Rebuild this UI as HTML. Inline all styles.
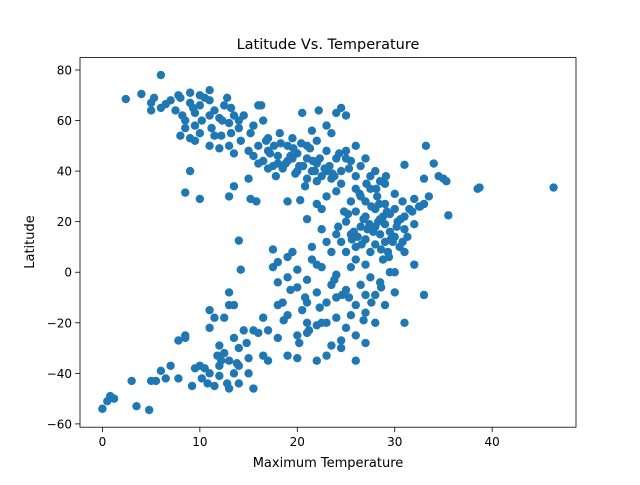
<!DOCTYPE html>
<html><head><meta charset="utf-8"><style>
body{margin:0;background:#fff}
svg text{font-family:"DejaVu Sans","Liberation Sans",sans-serif;fill:#000}
</style></head><body>
<svg id="chart" width="640" height="480" xmlns="http://www.w3.org/2000/svg">
<rect width="640" height="480" fill="#fff"/>
<g id="points"></g>
<rect x="80" y="57.6" width="496" height="369.6" fill="none" stroke="#000" stroke-width="0.8"/>
<g id="xticks"></g>
<g id="yticks"></g>
<text x="328" y="49" text-anchor="middle" font-size="14.5">Latitude Vs. Temperature</text>
<text x="328" y="467" text-anchor="middle" font-size="13">Maximum Temperature</text>
<text x="34" y="242" text-anchor="middle" font-size="13" transform="rotate(-90 34 242)">Latitude</text>
</svg>
<script>
const temps = [2.4,4,5,5,5.3,6,6,6.5,7,7.5,8,8.2,8.5,9,9,9.3,9.5,10,10,10.2,10.5,11,11,11.2,11.5,12,12.2,12.5,12.8,13,13.2,13.5,14,14,14.2,14.5,15,15.2,15.5,16,16.3,16.5,8,8.5,9,9.5,10,10,8.5,9,11,12,13,13.5,13,13.5,15,15.2,15.8,11.5,12.3,13.2,7.8,11,9.5,
15.5,16,16.5,17,17,17.5,17.8,18,18.2,18.5,19,19,19.5,19.8,20,20.2,20.5,20.8,21,21,21.5,21.5,22,22,22.2,22.5,23,23,23.3,23.5,24,24,24.5,24.5,25,25,25.5,26,26,26.5,27,19,20.3,21,22,22.5,23,23.5,24,24.5,16,17,18,19.5,20,21,22,23,25,
25,25.5,26,26,26.5,27,27,27,27.5,27.5,28,28,28,28.2,28.5,28.5,28.8,29,29,29,29,29.3,29.5,29.5,30,30,30,30.3,30.5,30.8,31,31,31,31.5,32,32,32.5,33,33,33.2,33.5,34,34.5,35,35.3,35.5,38.5,38.7,46.3,33,31,31,30,32,26.5,27.5,28,28.5,27,26,25,24.5,24,23.5,23,22.5,22,21.5,26,25.5,
17.5,17.5,18,18,18.5,19,19,19.5,20,20,20.5,21,21,21.5,22,22,22.5,23,23,23.5,24,24,24.5,25,25,25.5,26,26,26.5,27,27,27.5,28,28,28.5,29,29.5,30,26,24.5,23,23.5,22,21,20,19,18,17,16.5,17,18,19,20,21,22.5,24,25.5,27,
0,0.5,0.8,1.2,3,3.5,4.8,5,5.5,6,7,7.8,7.8,8.5,8.5,10,10.5,10.8,11,11,11,11.5,12,12,12.5,12.5,13,13,13,13,13.5,13.5,14,14,14,14.2,14.5,15,15,15.5,15.5,16,16.5,14,12,11.5,9.5,13.5,
26.2,27.2,28.3,29.2,30.2,31.3,27.8,28.8,29.8,26.8,27.6,28.6,29.6,30.6,25.8,26.6,27.4,28.4,29.4,24.8,25.6,30.8,31.8,32.6,26.4,28.1,29.1,27.1,24.2,25.2,
17.2,18.3,19.3,20.6,21.3,22.3,23.6,24.3,16.8,18.8,20.4,22.8,17.6,19.6,21.6,23.8,25.3,21.8,
19.3,20.8,22.3,23.8,25.3,26.8,21.2,24.6,18.6,27.6,28.6,20.2,
10.2,12.2,14.8,12.8,9.2,6.5,13.8,11.8];
const lats = [68.5,70.5,67,64,69,78,65,66.5,68,64,69,62,60,67,71,65,63,70,66,60,69,68,62,57,64,61,54,66,69,59,55,62,57,60,52,62,48,55,58,66,66,60,54,57,53,52,55,29,31.5,40,50,49,50,47,30,34,37,29,28,54,60,65,70,72,58,
46,50,44,48,53,42,38,46,55,41,50,44,53,39,47,42,63,34,50,45,40,56,52,43,64,38,48,58,42,55,45,63,40,65,48,62,44,50,38,42,45,28,28.5,21,27,25,30,37,32,35,43,41,43,45,40,37,36,40,45,
20,15,24,10,18,28,22,13,33,8,25,18,11,30,21,15,5,27,19,12,35,8,23,16,25,14,31,20,10,28,22,17,42.5,25,29,19,26,27,37,50,30,43,38,37,36,22.5,33,33.5,33.5,-9,-20,8,0,3,30,38,40,36,3,5,8,12,15,8,12,17,3,10,33,28,
9,2,-4,4,-12,-2,6,8,-6,1,-15,-3,-20,5,-8,-21,2,-12,-20,-5,-1,-18,-27,-7,-22,2,-13,-35,-5,-16,-28,-2,-9,-20,-4,-13,0,-8,-25,-30,-33,-29,-35,-24,-34,-33,-26,-35,-33,-23,-13,-17,-25,-12,-20,-10,-17,-9,
-54,-51,-49,-50,-43,-53,-54.5,-43,-43,-39,-37,-42,-27,-25,-26,-37,-38,-44,-15,-22,-40,-18,-29,-37,-32,-18,-8,-13,-35,-46,-13,-40,-30,-37,12.5,1,-23,-34,-40,-23,-46,-24,-18,-44,-41,-45,-38,-26,
14,17,20,24,18,14,16,22,12,21,26,9,13,21,16,11,19,27,6,24,13,12,24,26,31,33,38,35,18,23,
47,51,46,42,49,45,39,47,52,43,51,41,50,49,44,38,41,40,
-7,-10,-14,-3,-10,-19,-23,-9,-19,-12,-6,-28,
-42,-35,-28,-44,-45,-42,-36,-33];
const xTicks = [0,10,20,30,40];
const yTicks = [-60,-40,-20,0,20,40,60,80];
const xMin=-2.3, xMax=48.6, yMin=-61.3, yMax=84.9;
const L=80,R=576,T=57.6,B=427.2;
function sx(v){return L+(v-xMin)/(xMax-xMin)*(R-L);}
function sy(v){return B-(v-yMin)/(yMax-yMin)*(B-T);}
const NS="http://www.w3.org/2000/svg";
const gp=document.getElementById('points');
for(let i=0;i<Math.min(temps.length,lats.length);i++){
  const c=document.createElementNS(NS,'circle');
  c.setAttribute('cx',sx(temps[i]));c.setAttribute('cy',sy(lats[i]));
  c.setAttribute('r',4.2);c.setAttribute('fill','#1f77b4');
  
  
  gp.appendChild(c);
}
const gx=document.getElementById('xticks');
xTicks.forEach(t=>{
  const x=sx(t);
  const l=document.createElementNS(NS,'line');
  l.setAttribute('x1',x);l.setAttribute('x2',x);l.setAttribute('y1',B);l.setAttribute('y2',B+4.9);l.setAttribute('stroke','#000');l.setAttribute('stroke-width','0.8');
  
  
  gx.appendChild(l);
  const tx=document.createElementNS(NS,'text');
  tx.setAttribute('x',x);tx.setAttribute('y',B+19);tx.setAttribute('text-anchor','middle');tx.setAttribute('font-size','12');
  tx.textContent=t;
  
  
  gx.appendChild(tx);
});
const gy=document.getElementById('yticks');
yTicks.forEach(t=>{
  const y=sy(t);
  const l=document.createElementNS(NS,'line');
  l.setAttribute('x1',L-4.9);l.setAttribute('x2',L);l.setAttribute('y1',y);l.setAttribute('y2',y);l.setAttribute('stroke','#000');l.setAttribute('stroke-width','0.8');
  
  
  gy.appendChild(l);
  const tx=document.createElementNS(NS,'text');
  tx.setAttribute('x',L-8);tx.setAttribute('y',y+4.5);tx.setAttribute('text-anchor','end');tx.setAttribute('font-size','12');
  tx.textContent=t<0?'\u2212'+(-t):t;
  
  
  gy.appendChild(tx);
});
</script>
</body></html>
